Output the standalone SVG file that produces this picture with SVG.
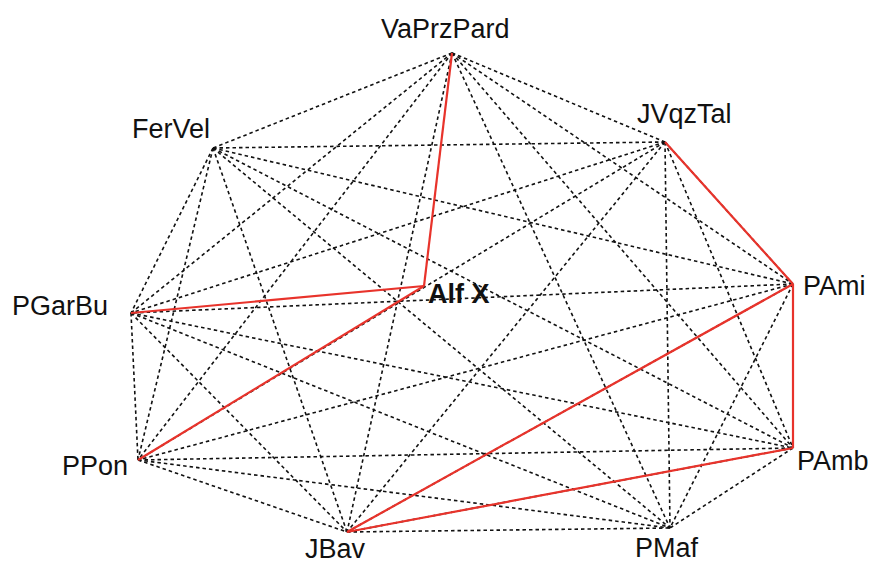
<svg xmlns="http://www.w3.org/2000/svg" width="875" height="565" viewBox="0 0 875 565">
<style>
.d{stroke:#111;stroke-width:1.6;stroke-dasharray:3.5 3;fill:none}
.r{stroke:#e8332b;stroke-width:2.2;fill:none}
text{font-family:"Liberation Sans",Arial,sans-serif;font-size:27px;fill:#111}
.b{font-weight:bold}
</style>
<rect width="875" height="565" fill="#fff"/>
<g id="connectors">
<g class="d">
<line x1="452" y1="53" x2="213" y2="148"/>
<line x1="452" y1="53" x2="665" y2="142"/>
<line x1="452" y1="53" x2="793" y2="284"/>
<line x1="452" y1="53" x2="131" y2="313"/>
<line x1="452" y1="53" x2="138" y2="460"/>
<line x1="452" y1="53" x2="793" y2="448"/>
<line x1="452" y1="53" x2="347" y2="532"/>
<line x1="452" y1="53" x2="670" y2="528"/>
<line x1="213" y1="148" x2="665" y2="142"/>
<line x1="213" y1="148" x2="793" y2="284"/>
<line x1="213" y1="148" x2="131" y2="313"/>
<line x1="213" y1="148" x2="138" y2="460"/>
<line x1="213" y1="148" x2="793" y2="448"/>
<line x1="213" y1="148" x2="347" y2="532"/>
<line x1="213" y1="148" x2="670" y2="528"/>
<line x1="665" y1="142" x2="793" y2="284"/>
<line x1="665" y1="142" x2="131" y2="313"/>
<line x1="665" y1="142" x2="138" y2="460"/>
<line x1="665" y1="142" x2="793" y2="448"/>
<line x1="665" y1="142" x2="347" y2="532"/>
<line x1="665" y1="142" x2="670" y2="528"/>
<line x1="793" y1="284" x2="131" y2="313"/>
<line x1="793" y1="284" x2="138" y2="460"/>
<line x1="793" y1="284" x2="793" y2="448"/>
<line x1="793" y1="284" x2="347" y2="532"/>
<line x1="793" y1="284" x2="670" y2="528"/>
<line x1="131" y1="313" x2="138" y2="460"/>
<line x1="131" y1="313" x2="793" y2="448"/>
<line x1="131" y1="313" x2="347" y2="532"/>
<line x1="131" y1="313" x2="670" y2="528"/>
<line x1="138" y1="460" x2="793" y2="448"/>
<line x1="138" y1="460" x2="347" y2="532"/>
<line x1="138" y1="460" x2="670" y2="528"/>
<line x1="793" y1="448" x2="347" y2="532"/>
<line x1="793" y1="448" x2="670" y2="528"/>
<line x1="347" y1="532" x2="670" y2="528"/>
</g>
<g class="r">
<line x1="452" y1="53" x2="424" y2="286"/>
<line x1="424" y1="286" x2="131" y2="313"/>
<line x1="424" y1="286" x2="138" y2="460"/>
<line x1="665" y1="142" x2="793" y2="284"/>
<line x1="793" y1="284" x2="793" y2="448"/>
<line x1="793" y1="284" x2="347" y2="532"/>
<line x1="793" y1="448" x2="347" y2="532"/>
</g>
</g>
<g id="VaPrzPard"><text x="381" y="38">VaPrzPard</text></g>
<g id="FerVel"><text x="132" y="138">FerVel</text></g>
<g id="JVqzTal"><text x="637" y="123">JVqzTal</text></g>
<g id="PAmi"><text x="803" y="295">PAmi</text></g>
<g id="AlfX"><text class="b" x="428" y="303">Alf X</text></g>
<g id="PGarBu"><text x="12" y="315">PGarBu</text></g>
<g id="PPon"><text x="62" y="475">PPon</text></g>
<g id="PAmb"><text x="797" y="470">PAmb</text></g>
<g id="JBav"><text x="305" y="558">JBav</text></g>
<g id="PMaf"><text x="635" y="557">PMaf</text></g>
</svg>
